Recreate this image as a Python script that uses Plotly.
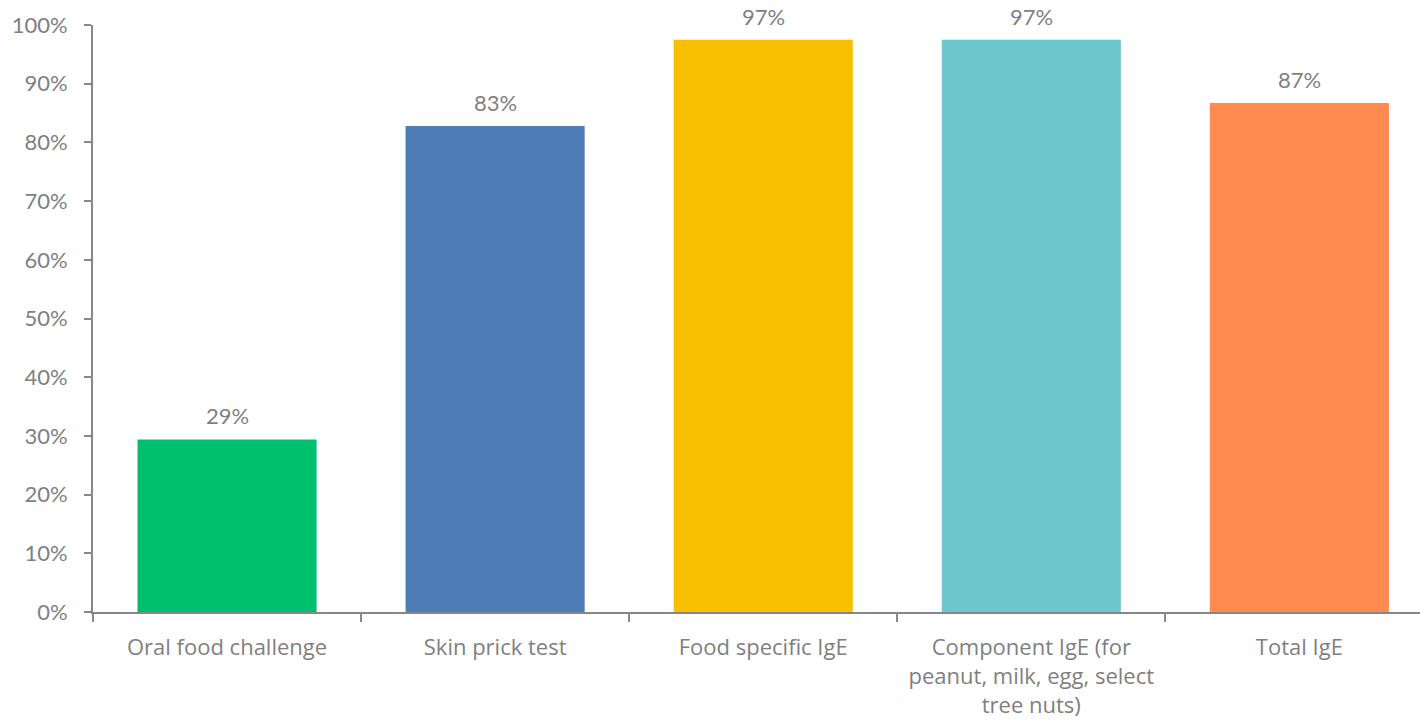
import plotly.graph_objects as go

categories = ["Oral food challenge", "Skin prick test", "Food specific IgE",
              "Component IgE (for<br>peanut, milk, egg, select<br>tree nuts)", "Total IgE"]
values = [0.294, 0.828, 0.975, 0.975, 0.867]
labels = ["29%", "83%", "97%", "97%", "87%"]
colors = ["#00BF6F", "#4E7DB5", "#F8BF00", "#6BC7CC", "#FF8B50"]

font_family = "Lato, Open Sans, sans-serif"
xfont_family = "Open Sans, Lato, sans-serif"
gray = "#7F7F7F"

fig = go.Figure(go.Bar(x=categories, y=values, marker_color=colors,
                       marker_line_width=0, width=0.668))

for c, v, t in zip(categories, values, labels):
    fig.add_annotation(x=c, y=v, text=t, showarrow=False, yanchor="bottom",
                       yshift=8, font=dict(family=font_family, size=22, color=gray))

fig.update_layout(
    width=1420, height=727,
    margin=dict(l=93, r=0, t=25, b=115),
    plot_bgcolor="white", paper_bgcolor="white",
    showlegend=False,
    font=dict(family=font_family, size=22, color=gray),
)
fig.update_yaxes(range=[0, 1], tickvals=[i / 10 for i in range(11)],
                 tickformat=".0%", showgrid=False, zeroline=False,
                 showline=True, linecolor="#878787", linewidth=2,
                 ticks="outside", ticklen=7, tickcolor="#878787", tickwidth=2,
                 ticklabelstandoff=12,
                 tickfont=dict(family=font_family, size=22, color=gray))
fig.update_xaxes(range=[-0.5, 4.45], showgrid=False, showline=True,
                 linecolor="#878787", linewidth=2,
                 ticks="outside", tickson="boundaries", ticklen=8,
                 tickcolor="#878787", tickwidth=2, ticklabelstandoff=15,
                 tickfont=dict(family=xfont_family, size=22, color=gray))

fig.write_html("out.html")
